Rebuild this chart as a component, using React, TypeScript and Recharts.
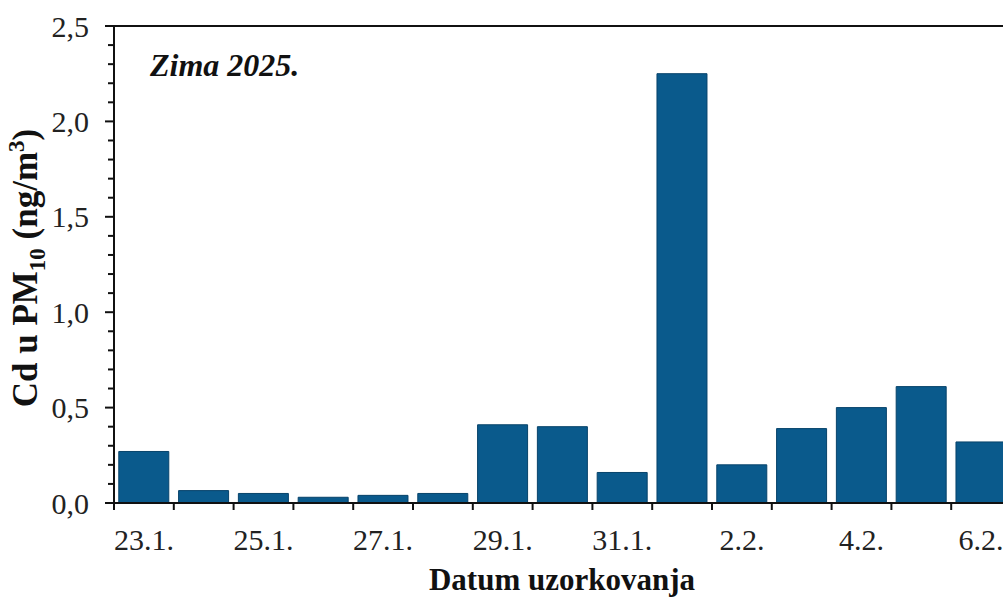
import { BarChart, Bar, XAxis, YAxis, ReferenceLine } from 'recharts';

const dates = [
  '23.1.', '24.1.', '25.1.', '26.1.', '27.1.', '28.1.', '29.1.', '30.1.',
  '31.1.', '1.2.', '2.2.', '3.2.', '4.2.', '5.2.', '6.2.',
];
const cdValues = [
  0.27, 0.065, 0.05, 0.03, 0.04, 0.05, 0.41, 0.4, 0.16, 2.25, 0.2, 0.39, 0.5, 0.61, 0.32,
];
const yTicks = [
  0, 0.1, 0.2, 0.3, 0.4, 0.5, 0.6, 0.7, 0.8, 0.9, 1.0, 1.1, 1.2, 1.3, 1.4, 1.5,
  1.6, 1.7, 1.8, 1.9, 2.0, 2.1, 2.2, 2.3, 2.4, 2.5,
];
const yLabelTicks = [0, 0.5, 1.0, 1.5, 2.0, 2.5];

const data = dates.map((d, i) => ({ date: d, cd: cdValues[i] }));

const W = 1015;
const H = 600;
const M = { top: 26, right: 4, left: 0, bottom: 0 };
const Y_W = 114;
const X_H = 97;
const BAND = (W - M.left - M.right - Y_W) / dates.length;
const FONT = '"Liberation Serif", "Times New Roman", serif';

function XTick(props: any) {
  const { x, y, index, payload } = props;
  return (
    <g>
      <line x1={x - BAND / 2} x2={x - BAND / 2} y1={y} y2={y + 7} stroke="#111" strokeWidth={2} />
      {index % 2 === 0 && (
        <text x={x} y={y + 47} textAnchor="middle" fontFamily={FONT} fontSize={30} fill="#222">
          {payload.value}
        </text>
      )}
    </g>
  );
}

function YTick(props: any) {
  const { x, y, payload } = props;
  const major = yLabelTicks.some((t) => Math.abs(t - payload.value) < 1e-6);
  return (
    <g>
      <line x1={x - (major ? 9 : 6)} x2={x} y1={y} y2={y} stroke="#111" strokeWidth={2} />
      {major && (
        <text x={x - 25} y={y} dy="0.35em" textAnchor="end" fontFamily={FONT} fontSize={30} fill="#222">
          {payload.value.toFixed(1).replace('.', ',')}
        </text>
      )}
    </g>
  );
}

export default function App() {
  return (
    <div style={{ position: 'absolute', left: 0, top: 0, width: 1003, height: 600, overflow: 'hidden', background: '#fff' }}>
      <BarChart width={W} height={H} data={data} margin={M} barCategoryGap="8%">
        <XAxis
          dataKey="date"
          interval={0}
          height={X_H}
          tickSize={0}
          tickMargin={0}
          tickLine={false}
          tick={<XTick />}
          axisLine={{ stroke: '#111', strokeWidth: 2 }}
        />
        <YAxis
          domain={[0, 2.5]}
          ticks={yTicks}
          interval={0}
          width={Y_W}
          tickSize={0}
          tickMargin={0}
          tickLine={false}
          tick={<YTick />}
          axisLine={{ stroke: '#111', strokeWidth: 2 }}
        />
        <ReferenceLine y={2.5} stroke="#111" strokeWidth={2} />
        <Bar dataKey="cd" fill="#0a5a8c" stroke="#07436a" strokeWidth={1} isAnimationActive={false} />
        <text x={150} y={76} fontFamily={FONT} fontSize={32} fontWeight="bold" fontStyle="italic" fill="#111">
          Zima 2025.
        </text>
        <text
          transform="translate(37,268) rotate(-90)"
          textAnchor="middle"
          fontFamily={FONT}
          fontSize={35}
          fontWeight="bold"
          fill="#111"
        >
          <tspan>Cd u PM</tspan>
          <tspan fontSize={23} dy={8}>10</tspan>
          <tspan dy={-8}> (ng/m</tspan>
          <tspan fontSize={23} dy={-13}>3</tspan>
          <tspan dy={13}>)</tspan>
        </text>
        <text x={562} y={590} textAnchor="middle" fontFamily={FONT} fontSize={31} fontWeight="bold" fill="#111">
          Datum uzorkovanja
        </text>
      </BarChart>
    </div>
  );
}
